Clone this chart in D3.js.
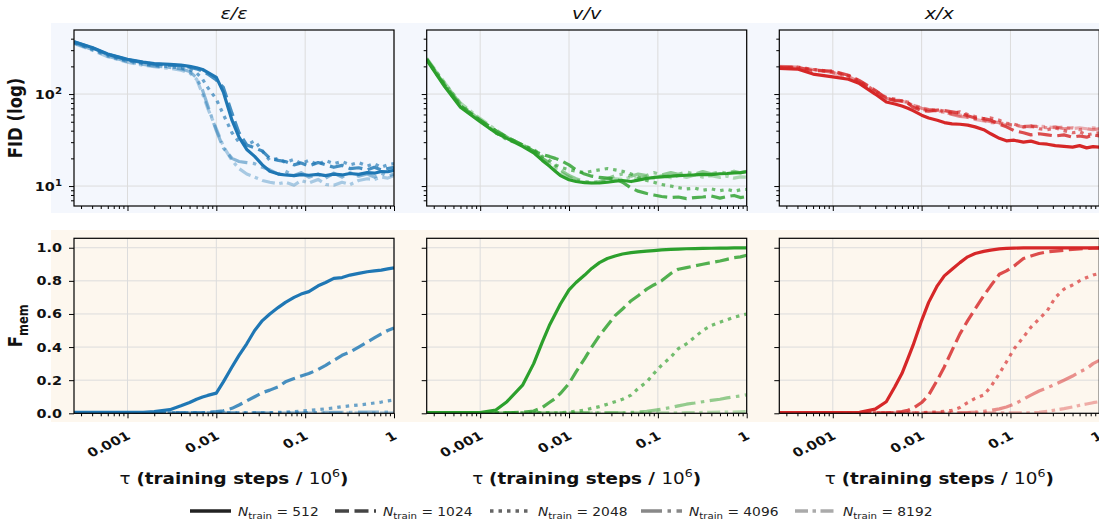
<!DOCTYPE html>
<html>
<head>
<meta charset="utf-8">
<script src="https://cdn.jsdelivr.net/npm/d3@7"></script>
<style>
  html, body { margin: 0; padding: 0; background: #ffffff; }
  svg { display: block; font-family: "DejaVu Sans", sans-serif; }
</style>
</head>
<body>
<svg id="fig" width="1099" height="525"></svg>
<script>
// Training time grid (millions of steps) shared by every curve
const tau = [0.00025, 0.0004, 0.0006, 0.001, 0.0015, 0.002, 0.003, 0.004, 0.005, 0.006, 0.007, 0.008,
  0.01, 0.012, 0.015, 0.018, 0.022, 0.027, 0.033, 0.04, 0.05, 0.06, 0.075, 0.09,
  0.11, 0.14, 0.17, 0.21, 0.26, 0.32, 0.4, 0.5, 0.6, 0.72, 0.85, 1.0];

const trainSizes = [512, 1024, 2048, 4096, 8192];
const panelTitles = ["ε/ε", "v/v", "x/x"];
const xTickLabels = ["0.001", "0.01", "0.1", "1"];
const fidTickLabels = [["10", "1"], ["10", "2"]];
const memTickLabels = ["0.0", "0.2", "0.4", "0.6", "0.8", "1.0"];

// FID, epsilon-prediction
const fidEps512  = [370, 320, 272, 238, 222, 214, 210, 206, 200, 193, 185, 172, 152, 105, 52, 34, 25, 21, 17, 14.5, 13.5, 13.2, 13, 13.3, 13.1, 13.4, 13.0, 13.5, 13.2, 13.7, 13.4, 14.0, 13.8, 14.4, 14.3, 14.8];
const fidEps1024 = [370, 318, 270, 236, 220, 212, 206, 202, 196, 188, 178, 165, 142, 118, 62, 38, 28, 26, 24, 20, 19, 18.5, 17, 17.8, 16.5, 18, 17, 16, 16.8, 15.5, 15.8, 15, 16, 15, 15.5, 16];
const fidEps2048 = [360, 310, 265, 230, 214, 205, 198, 192, 184, 170, 145, 118, 88, 60, 38, 30, 28, 31, 24, 19, 20, 18, 19.5, 17.5, 19, 17, 19, 17.5, 18.5, 17, 18, 16.5, 17.5, 16, 17, 17.5];
const fidEps4096 = [360, 305, 258, 226, 210, 202, 195, 188, 176, 150, 110, 75, 40, 26, 20, 18.5, 18, 17.5, 16, 15, 13.5, 14.5, 13, 14, 12.5, 13.5, 12.2, 13.8, 12.5, 14, 12.8, 13.5, 12.5, 13.8, 12.8, 13.5];
const fidEps8192 = [355, 300, 255, 222, 206, 198, 190, 182, 170, 145, 100, 70, 42, 27, 19, 15.5, 13.5, 12.5, 11.5, 11, 10.6, 11, 10.2, 11.5, 10.8, 11.8, 10.4, 10.2, 11, 10.4, 11.5, 12, 11.8, 12.5, 12.2, 13];

// FID, v-prediction
const fidV512  = [235, 120, 72, 50, 38, 33, 27, 23, 19, 16.5, 14.5, 13, 11.7, 11.2, 10.9, 10.8, 10.8, 11.0, 11.3, 11.5, 11.2, 11.6, 12.1, 12.4, 12.6, 12.8, 13.0, 13.1, 13.2, 13.4, 13.3, 13.6, 13.7, 13.9, 14.0, 14.3];
const fidV1024 = [240, 125, 75, 52, 40, 34, 28, 24, 22, 21, 20, 19, 17, 15, 13.5, 12.8, 12.4, 12.2, 12, 11, 9.5, 8.8, 8.3, 8.0, 7.7, 7.5, 7.6, 7.3, 7.5, 7.6, 7.8, 7.4, 7.7, 7.9, 7.5, 7.7];
const fidV2048 = [238, 122, 74, 51, 38, 32, 28, 25, 21, 19, 17, 16, 15, 14.5, 14, 14.5, 15, 15.5, 15, 14.5, 13.5, 12.5, 11.5, 11, 10.4, 10.0, 9.6, 9.3, 9.5, 9.0, 9.3, 8.9, 9.2, 8.8, 9.1, 9.2];
const fidV4096 = [240, 130, 78, 52, 40, 34, 28, 24, 20, 18, 16.5, 15, 13, 12, 11.2, 11, 11.2, 12, 13, 13.5, 12.8, 13.5, 13, 14, 13.2, 14, 13.4, 14.2, 13.5, 14.4, 13.6, 14.2, 13.8, 14.5, 13.9, 14.5];
const fidV8192 = [245, 132, 80, 54, 41, 34, 28, 24, 20, 17.5, 15.5, 14, 12.5, 11.6, 11, 10.8, 11, 11.5, 12, 11.8, 12.5, 12, 12.8, 12.2, 13, 12.3, 13, 12.4, 13.2, 12.5, 13, 12.4, 12.8, 12.2, 12.6, 12.5];

// FID, x-prediction
const fidX512  = [190, 187, 165, 154, 145, 130, 100, 82, 78, 74, 70, 66, 59, 55, 52, 49, 47.5, 47, 46, 44, 41, 37, 33, 31, 31.5, 30, 30.8, 29, 28.5, 27.5, 27, 26.5, 27.5, 26, 26.8, 26.5];
const fidX1024 = [195, 195, 180, 178, 160, 140, 110, 90, 85, 84, 80, 72, 66, 65, 67, 66, 64, 62, 58, 55, 54, 52, 47, 44, 40, 38, 36, 37, 36, 35, 36, 34, 35, 34, 36, 35];
const fidX2048 = [195, 192, 185, 175, 158, 138, 108, 92, 88, 84, 80, 74, 68, 66, 68, 65, 62, 64, 60, 57, 54, 55, 52, 48, 47, 44, 45, 42, 41, 43, 40, 38, 39, 36, 37, 38];
const fidX4096 = [198, 196, 186, 172, 155, 135, 106, 90, 86, 85, 82, 76, 70, 68, 66, 64, 60, 57, 56, 54, 52, 50, 49, 47, 46, 44, 45, 44, 43, 44, 42, 43, 41, 42, 41, 42];
const fidX8192 = [200, 197, 185, 170, 152, 132, 104, 88, 86, 84, 80, 76, 71, 68, 65, 63, 61, 59, 56, 53, 51, 49, 48, 46, 46, 45, 44, 45, 44, 43, 44, 42, 43, 42, 43, 42];

// Memorised fraction, epsilon-prediction
const memEps512  = [0.005, 0.005, 0.005, 0.005, 0.006, 0.01, 0.022, 0.045, 0.065, 0.085, 0.098, 0.108, 0.122, 0.19, 0.28, 0.35, 0.42, 0.5, 0.56, 0.6, 0.64, 0.67, 0.7, 0.72, 0.735, 0.77, 0.79, 0.815, 0.82, 0.835, 0.845, 0.855, 0.86, 0.865, 0.872, 0.878];
const memEps1024 = [0.003, 0.003, 0.003, 0.003, 0.003, 0.003, 0.003, 0.003, 0.003, 0.003, 0.004, 0.006, 0.01, 0.015, 0.03, 0.05, 0.075, 0.1, 0.125, 0.14, 0.16, 0.19, 0.21, 0.225, 0.24, 0.265, 0.29, 0.32, 0.35, 0.37, 0.4, 0.43, 0.455, 0.48, 0.5, 0.515];
const memEps2048 = [0.002, 0.002, 0.002, 0.002, 0.002, 0.002, 0.002, 0.002, 0.002, 0.002, 0.002, 0.002, 0.002, 0.002, 0.002, 0.002, 0.002, 0.002, 0.002, 0.003, 0.005, 0.007, 0.01, 0.014, 0.017, 0.022, 0.027, 0.032, 0.04, 0.045, 0.05, 0.056, 0.062, 0.068, 0.075, 0.08];
const memEps4096 = [0.002, 0.002, 0.002, 0.002, 0.002, 0.002, 0.002, 0.002, 0.002, 0.002, 0.002, 0.002, 0.002, 0.002, 0.002, 0.002, 0.002, 0.002, 0.002, 0.002, 0.002, 0.003, 0.003, 0.003, 0.004, 0.004, 0.005, 0.005, 0.006, 0.006, 0.007, 0.007, 0.007, 0.008, 0.008, 0.008];
const memEps8192 = [0.002, 0.002, 0.002, 0.002, 0.002, 0.002, 0.002, 0.002, 0.002, 0.002, 0.002, 0.002, 0.002, 0.002, 0.002, 0.002, 0.002, 0.002, 0.002, 0.002, 0.002, 0.002, 0.002, 0.002, 0.002, 0.002, 0.002, 0.002, 0.002, 0.003, 0.003, 0.003, 0.003, 0.003, 0.003, 0.003];

// Memorised fraction, v-prediction
const memV512  = [0.004, 0.004, 0.004, 0.004, 0.02, 0.07, 0.17, 0.3, 0.43, 0.53, 0.6, 0.66, 0.745, 0.79, 0.835, 0.875, 0.91, 0.935, 0.95, 0.962, 0.97, 0.975, 0.98, 0.983, 0.987, 0.99, 0.992, 0.994, 0.995, 0.996, 0.997, 0.998, 0.998, 0.999, 0.999, 0.999];
const memV1024 = [0.003, 0.003, 0.003, 0.003, 0.003, 0.003, 0.006, 0.014, 0.035, 0.065, 0.09, 0.12, 0.18, 0.25, 0.33, 0.40, 0.47, 0.53, 0.59, 0.63, 0.68, 0.71, 0.75, 0.775, 0.8, 0.845, 0.87, 0.88, 0.89, 0.9, 0.91, 0.92, 0.93, 0.94, 0.945, 0.955];
const memV2048 = [0.003, 0.003, 0.003, 0.003, 0.003, 0.003, 0.003, 0.003, 0.003, 0.003, 0.003, 0.003, 0.008, 0.012, 0.02, 0.03, 0.04, 0.055, 0.07, 0.085, 0.11, 0.15, 0.19, 0.24, 0.29, 0.34, 0.39, 0.42, 0.46, 0.5, 0.53, 0.55, 0.565, 0.58, 0.59, 0.6];
const memV4096 = [0.002, 0.002, 0.002, 0.002, 0.002, 0.002, 0.002, 0.002, 0.002, 0.002, 0.002, 0.002, 0.002, 0.002, 0.002, 0.002, 0.002, 0.002, 0.002, 0.002, 0.005, 0.008, 0.012, 0.018, 0.025, 0.035, 0.045, 0.055, 0.062, 0.07, 0.078, 0.085, 0.093, 0.1, 0.105, 0.112];
const memV8192 = [0.002, 0.002, 0.002, 0.002, 0.002, 0.002, 0.002, 0.002, 0.002, 0.002, 0.002, 0.002, 0.002, 0.002, 0.002, 0.002, 0.002, 0.002, 0.002, 0.002, 0.002, 0.002, 0.002, 0.002, 0.002, 0.003, 0.003, 0.004, 0.004, 0.005, 0.006, 0.007, 0.008, 0.008, 0.009, 0.01];

// Memorised fraction, x-prediction
const memX512  = [0.004, 0.004, 0.004, 0.004, 0.004, 0.006, 0.025, 0.07, 0.16, 0.24, 0.33, 0.41, 0.56, 0.67, 0.77, 0.83, 0.87, 0.91, 0.945, 0.965, 0.978, 0.986, 0.993, 0.996, 0.998, 0.999, 0.999, 0.999, 0.999, 0.999, 0.999, 0.999, 0.999, 0.999, 0.999, 0.999];
const memX1024 = [0.003, 0.003, 0.003, 0.003, 0.003, 0.003, 0.003, 0.003, 0.006, 0.01, 0.018, 0.03, 0.065, 0.11, 0.2, 0.28, 0.38, 0.48, 0.56, 0.63, 0.71, 0.77, 0.84, 0.86, 0.89, 0.935, 0.95, 0.965, 0.975, 0.98, 0.985, 0.99, 0.993, 0.995, 0.997, 0.998];
const memX2048 = [0.002, 0.002, 0.002, 0.002, 0.002, 0.002, 0.002, 0.002, 0.002, 0.002, 0.002, 0.002, 0.004, 0.006, 0.008, 0.012, 0.018, 0.035, 0.065, 0.09, 0.11, 0.16, 0.24, 0.31, 0.39, 0.46, 0.52, 0.57, 0.62, 0.7, 0.75, 0.775, 0.8, 0.82, 0.835, 0.845];
const memX4096 = [0.002, 0.002, 0.002, 0.002, 0.002, 0.002, 0.002, 0.002, 0.002, 0.002, 0.002, 0.002, 0.002, 0.002, 0.002, 0.002, 0.002, 0.002, 0.004, 0.007, 0.012, 0.018, 0.027, 0.038, 0.055, 0.085, 0.11, 0.135, 0.155, 0.175, 0.2, 0.225, 0.25, 0.27, 0.3, 0.32];
const memX8192 = [0.002, 0.002, 0.002, 0.002, 0.002, 0.002, 0.002, 0.002, 0.002, 0.002, 0.002, 0.002, 0.002, 0.002, 0.002, 0.002, 0.002, 0.002, 0.002, 0.002, 0.002, 0.002, 0.002, 0.002, 0.002, 0.002, 0.002, 0.006, 0.012, 0.02, 0.028, 0.038, 0.048, 0.056, 0.064, 0.07];

const fidSeries = [
  [fidEps512, fidEps1024, fidEps2048, fidEps4096, fidEps8192],
  [fidV512, fidV1024, fidV2048, fidV4096, fidV8192],
  [fidX512, fidX1024, fidX2048, fidX4096, fidX8192]
];
const memSeries = [
  [memEps512, memEps1024, memEps2048, memEps4096, memEps8192],
  [memV512, memV1024, memV2048, memV4096, memV8192],
  [memX512, memX1024, memX2048, memX4096, memX8192]
];

// ---- styling ----
const baseColors = ["#1f77b4", "#2ca02c", "#d62728"];
const seriesOpacity = [1, 0.82, 0.66, 0.5, 0.36];
const dashes = [null, "14 5.5", "3.5 5", "21 5.5 3.5 5.5", "13 4.5 3.5 4.5"];
const legendGrays = ["#222222", "#444444", "#666666", "#888888", "#aaaaaa"];
const lineWidth = 3.2;
const textStretch = 1.2;   // glyphs are drawn slightly wide

const panelLeft = [74, 426.7, 779.3];
const panelW = 320;
const topRow = { y: 30, h: 176, bg: "#f4f7fd", bandTop: 23, bandBottom: 213 };
const botRow = { y: 238.3, h: 175, bg: "#fdf7ee", bandTop: 230, bandBottom: 422 };

const svg = d3.select("#fig");

// text placed at (px, py), widened horizontally
function wideText(parent, px, py, extra) {
  return parent.append("text")
    .attr("transform", `translate(${px},${py}) scale(${textStretch},1)${extra || ""}`)
    .attr("fill", "#111");
}

const x = d3.scaleLog().domain([0.00025, 1]).range([0, panelW]);
const yFid = d3.scaleLog().domain([6.07, 497]).range([topRow.h, 0]);
const yMem = d3.scaleLinear().domain([0, 1.057]).range([botRow.h, 0]);

// shaded row bands behind the axes
svg.append("rect").attr("x", 51).attr("y", topRow.bandTop).attr("width", 1099 - 51)
  .attr("height", topRow.bandBottom - topRow.bandTop).attr("fill", topRow.bg);
svg.append("rect").attr("x", 51).attr("y", botRow.bandTop).attr("width", 1099 - 51)
  .attr("height", botRow.bandBottom - botRow.bandTop).attr("fill", botRow.bg);

const majorX = [0.001, 0.01, 0.1, 1];
const minorX = [];
[0.0001, 0.001, 0.01, 0.1].forEach(d => { for (let k = 2; k <= 9; k++) { const v = d * k; if (v >= 0.00025 && v <= 1) minorX.push(v); } });
const majorFid = [10, 100];
const minorFid = [];
[1, 10, 100].forEach(d => { for (let k = 2; k <= 9; k++) { const v = d * k; if (v >= 6.07 && v <= 497 && v !== 10 && v !== 100) minorFid.push(v); } });
const majorMem = [0, 0.2, 0.4, 0.6, 0.8, 1.0];

const gridColor = "#dcdcdc";

function drawPanel(col, row) {
  const isTop = row === 0;
  const R = isTop ? topRow : botRow;
  const y = isTop ? yFid : yMem;
  const g = svg.append("g").attr("transform", `translate(${panelLeft[col]},${R.y})`);

  g.append("rect").attr("width", panelW).attr("height", R.h).attr("fill", R.bg);

  // grid
  majorX.forEach(v => g.append("line").attr("x1", x(v)).attr("x2", x(v)).attr("y1", 0).attr("y2", R.h)
    .attr("stroke", gridColor).attr("stroke-width", 1));
  (isTop ? majorFid : majorMem).forEach(v => g.append("line").attr("x1", 0).attr("x2", panelW)
    .attr("y1", y(v)).attr("y2", y(v)).attr("stroke", gridColor).attr("stroke-width", 1));

  // curves
  const clipId = `clip-${row}-${col}`;
  g.append("clipPath").attr("id", clipId).append("rect").attr("width", panelW).attr("height", R.h);
  const data = isTop ? fidSeries[col] : memSeries[col];
  const line = d3.line().x((d, i) => x(tau[i])).y(d => y(d));
  data.forEach((vals, si) => {
    g.append("path").attr("clip-path", `url(#${clipId})`)
      .attr("d", line(vals))
      .attr("fill", "none")
      .attr("stroke", baseColors[col])
      .attr("stroke-opacity", seriesOpacity[si])
      .attr("stroke-width", lineWidth)
      .attr("stroke-linejoin", "round")
      .attr("stroke-dasharray", dashes[si]);
  });

  // x axis
  const xAxis = d3.axisBottom(x).tickValues(majorX).tickSize(5).tickFormat("");
  const xa = g.append("g").attr("transform", `translate(0,${R.h})`).call(xAxis);
  const xMinor = d3.axisBottom(x).tickValues(minorX).tickSize(3).tickFormat("");
  const xm = g.append("g").attr("transform", `translate(0,${R.h})`).call(xMinor);
  [xa, xm].forEach(a => { a.select(".domain").remove(); a.selectAll("line").attr("stroke", "#000").attr("stroke-width", 1); });

  if (!isTop) {
    majorX.forEach((v, i) => {
      wideText(g, x(v) + 4, R.h + 25, " rotate(-30)")
        .attr("text-anchor", "end")
        .attr("font-size", 12.3).attr("font-weight", "bold")
        .text(xTickLabels[i]);
    });
  }

  // y axis
  if (isTop) {
    const ya = g.append("g").call(d3.axisLeft(y).tickValues(majorFid).tickSize(5).tickFormat(""));
    const ym = g.append("g").call(d3.axisLeft(y).tickValues(minorFid).tickSize(3).tickFormat(""));
    [ya, ym].forEach(a => { a.select(".domain").remove(); a.selectAll("line").attr("stroke", "#000").attr("stroke-width", 1); });
    if (col === 0) {
      majorFid.forEach((v, i) => {
        const t = wideText(g, -12, y(v) + 5)
          .attr("text-anchor", "end").attr("font-size", 12).attr("font-weight", "bold");
        t.append("tspan").text(fidTickLabels[i][0]);
        t.append("tspan").attr("dy", -5).attr("font-size", 8.5).text(fidTickLabels[i][1]);
      });
    }
  } else {
    const ya = g.append("g").call(d3.axisLeft(y).tickValues(majorMem).tickSize(5).tickFormat(""));
    ya.select(".domain").remove();
    ya.selectAll("line").attr("stroke", "#000").attr("stroke-width", 1);
    if (col === 0) {
      majorMem.forEach((v, i) => {
        wideText(g, -12, y(v) + 4.5)
          .attr("text-anchor", "end").attr("font-size", 12).attr("font-weight", "bold")
          .text(memTickLabels[i]);
      });
    }
  }

  // frame
  g.append("rect").attr("width", panelW).attr("height", R.h).attr("fill", "none")
    .attr("stroke", "#000").attr("stroke-width", 1.2);

  if (isTop) {
    wideText(g, panelW / 2, -11).attr("text-anchor", "middle")
      .attr("font-size", 16).attr("font-style", "italic").text(panelTitles[col]);
  } else {
    const lab = wideText(g, panelW / 2, R.h + 71).attr("text-anchor", "middle").attr("font-size", 15.3);
    lab.append("tspan").text("τ ");
    lab.append("tspan").attr("font-weight", "bold").text("(training steps / ");
    lab.append("tspan").text("10");
    lab.append("tspan").attr("dy", -7).attr("font-size", 10.5).text("6");
    lab.append("tspan").attr("dy", 7).attr("font-weight", "bold").text(")");
  }
}

for (let row = 0; row < 2; row++) for (let col = 0; col < 3; col++) drawPanel(col, row);

// row labels
wideText(svg, 22, topRow.y + topRow.h / 2, " rotate(-90)")
  .attr("text-anchor", "middle").attr("font-size", 16.5).attr("font-weight", "bold")
  .text("FID (log)");
const fm = wideText(svg, 22, botRow.y + botRow.h / 2, " rotate(-90)")
  .attr("text-anchor", "middle").attr("font-size", 16.5).attr("font-weight", "bold");
fm.append("tspan").text("F");
fm.append("tspan").attr("dy", 5).attr("font-size", 11.5).text("mem");

// legend
const legendItemX = [190, 335, 490, 641, 795];
const legendY = 511;
trainSizes.forEach((n, i) => {
  const lx = legendItemX[i];
  svg.append("line").attr("x1", lx).attr("x2", lx + 41).attr("y1", legendY).attr("y2", legendY)
    .attr("stroke", legendGrays[i]).attr("stroke-width", 3.5).attr("stroke-dasharray", dashes[i]);
  const t = wideText(svg, lx + 48, legendY + 5).attr("font-size", 11.5).attr("fill", "#222");
  t.append("tspan").attr("font-style", "italic").text("N");
  t.append("tspan").attr("dy", 3).attr("font-size", 8.5).text("train");
  t.append("tspan").attr("dy", -3).text(" = " + n);
});
</script>
</body>
</html>
